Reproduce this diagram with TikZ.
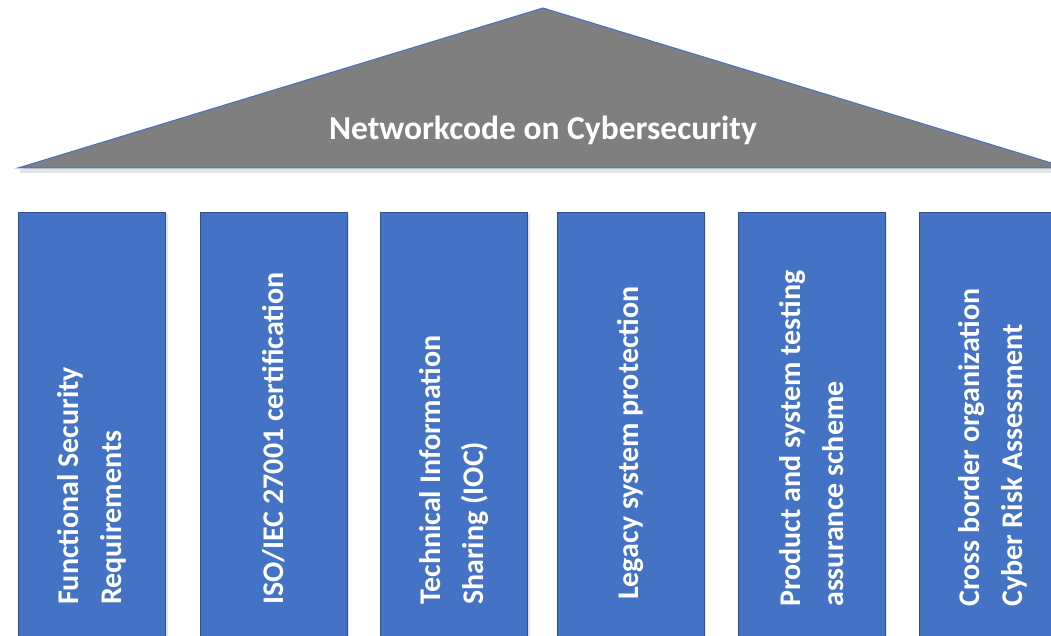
\documentclass[tikz,border=0pt]{standalone}
\usepackage{fontspec}
\setmainfont{Carlito}
\usetikzlibrary{positioning}
\usetikzlibrary{shadows}

\definecolor{pillarblue}{HTML}{4472C4}
\definecolor{pillaredge}{HTML}{2F528F}
\definecolor{roofgray}{HTML}{7F7F7F}

\begin{document}
\begin{tikzpicture}[x=1pt, y=-1pt,
  pillar/.style={rectangle, fill=pillarblue, draw=pillaredge, line width=0.8pt,
    minimum width=147pt, minimum height=450pt, anchor=north, inner sep=0pt,
    drop shadow={shadow xshift=2pt, shadow yshift=-2pt, opacity=0.2}},
  pillartext/.style={rotate=90, anchor=west, align=left, text=white, inner sep=0pt,
    font=\bfseries\fontsize{30}{43}\selectfont}]

\clip (0,0) rectangle (1051,636);

% roof
\fill[black, opacity=0.1] (20,170) -- (545,12) -- (1070,170) -- (1070,173) -- (20,173) -- cycle;
\draw[fill=roofgray, draw=pillarblue, line width=1pt] (18,168) -- (543,8) -- (1068,168) -- cycle;
\node[text=white, font=\bfseries\fontsize{33.5}{40}\selectfont] (title) at (543,130) {Networkcode on Cybersecurity};

% pillars
\node[pillar] (p1) at (92,212) {};
\node[pillar] (p2) at (273.5,212) {};
\node[pillar] (p3) at (454,212) {};
\node[pillar] (p4) at (630.5,212) {};
\node[pillar] (p5) at (811.5,212) {};
\node[pillar] (p6) at (992.5,212) {};

\node[pillartext] (t1) at (92,605) {Functional Security\\Requirements};
\node[pillartext] (t2) at (273.5,605) {ISO/IEC 27001 certification};
\node[pillartext] (t3) at (454,605) {Technical Information\\Sharing (IOC)};
\node[pillartext] (t4) at (630.5,600) {Legacy system protection};
\node[pillartext] (t5) at (811.5,607) {Product and system testing\\assurance scheme};
\node[pillartext] (t6) at (992.5,607) {Cross border organization\\Cyber Risk Assessment};

\end{tikzpicture}
\end{document}
